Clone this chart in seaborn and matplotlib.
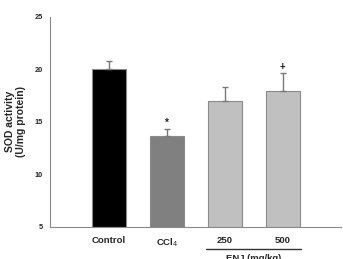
import pandas as pd
import numpy as np
import matplotlib
matplotlib.use('Agg')
import matplotlib.pyplot as plt
import seaborn as sns

# Data
groups = ['Control', 'CCl4', '250', '500']
sod_mean = [20.0, 13.65, 16.95, 17.95]
sod_sem = [0.75, 0.65, 1.35, 1.65]
marks = ['', '*', '', '+']
bar_colors = ['#000000', '#808080', '#c0c0c0', '#c0c0c0']
tick_labels = ['Control', 'CCl$_4$', '250', '500']

sns.set_style('white')
plt.rcParams['font.family'] = ['Liberation Sans', 'DejaVu Sans']

data = pd.DataFrame({'group': groups, 'sod': sod_mean})

fig = plt.figure(figsize=(3.43, 2.59), dpi=100)
ax = fig.add_axes([0.1458, 0.1247, 0.848, 0.8108])

sns.barplot(data=data, x='group', y='sod', hue='group', palette=bar_colors,
            width=0.6, ax=ax, legend=False, edgecolor='#8a8a8a', linewidth=0.8)
# bars start from the axis floor at 5
for p in ax.patches:
    p.set_y(5)
    p.set_height(p.get_height() - 5)

ax.errorbar(range(len(groups)), sod_mean, yerr=[np.zeros(len(groups)), sod_sem],
            fmt='none', ecolor='#7a7a7a', elinewidth=1.0, capsize=2.5, capthick=1.0)

for i, m in enumerate(marks):
    if m:
        ax.text(i, sod_mean[i] + sod_sem[i] + 0.1, m, ha='center', va='bottom',
                fontsize=7, fontweight='bold', color='#222222')

ax.set_ylim(5, 25)
ax.set_xlim(-1.02, 4.0)
ax.set_yticks([5, 10, 15, 20, 25])
ax.set_xticks(range(len(groups)))
ax.set_xticklabels(tick_labels, fontsize=6.8, fontweight='bold')
for lab in ax.get_yticklabels():
    lab.set_fontsize(5.3)
    lab.set_fontweight('bold')
ax.tick_params(axis='y', direction='out', length=2.5, width=0.8, color='#888888', pad=2.5)
ax.tick_params(axis='x', length=0, pad=7)

for side in ['top', 'right']:
    ax.spines[side].set_visible(False)
for side in ['left', 'bottom']:
    ax.spines[side].set_color('#8a8a8a')
    ax.spines[side].set_linewidth(0.8)

ax.set_xlabel('')
ax.set_ylabel('SOD activity\n(U/mg protein)', fontsize=7.5, fontweight='bold', labelpad=6)

# dose bracket under the ENJ groups
line_y = 1 - 249 / 259
fig.add_artist(plt.Line2D([0.601, 0.877], [line_y, line_y], color='#333333', linewidth=1.0))
fig.text(0.74, 1 - 254 / 259, 'ENJ (mg/kg)', ha='center', va='top', fontsize=6.8,
         fontweight='bold')

fig.savefig('out.png', dpi=100)
